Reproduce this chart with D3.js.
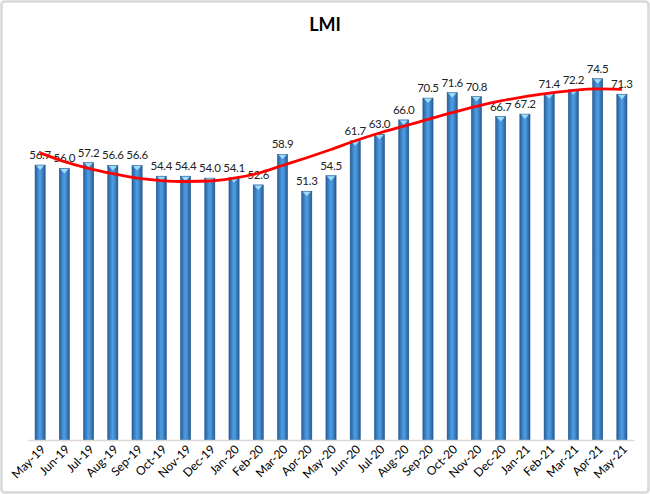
<!DOCTYPE html>
<html><head><meta charset="utf-8">
<script src="https://cdn.jsdelivr.net/npm/d3@7"></script>
<style>body{margin:0;background:#fff}svg{display:block}</style>
</head><body>
<script>
const categories = ["May-19","Jun-19","Jul-19","Aug-19","Sep-19","Oct-19","Nov-19","Dec-19","Jan-20","Feb-20","Mar-20","Apr-20","May-20","Jun-20","Jul-20","Aug-20","Sep-20","Oct-20","Nov-20","Dec-20","Jan-21","Feb-21","Mar-21","Apr-21","May-21"];
const lmiValues = [56.7,56.0,57.2,56.6,56.6,54.4,54.4,54.0,54.1,52.6,58.9,51.3,54.5,61.7,63.0,66.0,70.5,71.6,70.8,66.7,67.2,71.4,72.2,74.5,71.3];
const trendValues = [59.2,57.4,56.0,54.9,54.0,53.5,53.3,53.4,54.0,55.0,56.6,58.2,59.9,61.7,63.3,64.7,66.1,67.5,68.8,69.9,70.8,71.5,72.1,72.4,72.3];
const yDomain = [0, 80];

const W = 650, H = 494;
const svg = d3.select("body").append("svg").attr("width", W).attr("height", H);
const defs = svg.append("defs");
const g1 = defs.append("linearGradient").attr("id","barGrad").attr("x1","0").attr("x2","1").attr("y1","0").attr("y2","0");
g1.append("stop").attr("offset","0%").attr("stop-color","#25609c");
g1.append("stop").attr("offset","45%").attr("stop-color","#4e9be0");
g1.append("stop").attr("offset","60%").attr("stop-color","#4a95da");
g1.append("stop").attr("offset","100%").attr("stop-color","#235a93");

// outer frame
svg.append("rect").attr("x",1.5).attr("y",1.5).attr("width",W-3).attr("height",H-3)
  .attr("rx",3).attr("fill","#fff").attr("stroke","#d9d9d9").attr("stroke-width",2.5);

svg.append("text").attr("x",325).attr("y",31).attr("text-anchor","middle")
  .attr("font-family","Lato, 'Open Sans', sans-serif").attr("font-weight","bold").attr("font-size",18)
  .attr("fill","#000").text("LMI");

const x = d3.scaleBand().domain(categories).range([28, 634]).paddingInner(0.58).paddingOuter(0.29);
const y = d3.scaleLinear().domain(yDomain).range([440, 52]);
const bw = x.bandwidth();

const bars = svg.append("g");
bars.selectAll("rect").data(lmiValues).enter().append("rect")
  .attr("x",(d,i)=>x(categories[i])).attr("y",d=>y(d))
  .attr("width",bw).attr("height",d=>y(0)-y(d))
  .attr("fill","url(#barGrad)").attr("stroke","#1f5288").attr("stroke-width",0.5);
bars.selectAll("path").data(lmiValues).enter().append("path")
  .attr("d",(d,i)=>{const x0=x(categories[i]), t=y(d); return `M${x0+1},${t+0.5} L${x0+bw-1},${t+0.5} L${x0+bw/2},${t+5} Z`;})
  .attr("fill","#9fdcf8");

// axis
const xAxis = d3.axisBottom(x).tickSize(0).tickPadding(0);
const ax = svg.append("g").attr("transform","translate(0,440)").call(xAxis);
ax.select(".domain").attr("stroke","#d9d9d9").attr("stroke-width",1.5);
ax.selectAll("text").attr("font-family","Lato, 'Open Sans', sans-serif").attr("font-size",12).attr("fill","#000")
  .attr("text-anchor","end").attr("dy",null).attr("y",null)
  .attr("transform","translate(6,10) rotate(-45)");

// labels
svg.append("g").selectAll("text").data(lmiValues).enter().append("text")
  .attr("x",(d,i)=>x(categories[i])+bw/2).attr("y",d=>y(d)-6)
  .attr("text-anchor","middle").attr("font-family","Lato, 'Open Sans', sans-serif").attr("font-size",11.5)
  .attr("letter-spacing",-0.3)
  .attr("fill","#222").text(d=>d.toFixed(1));

// trend
const line = d3.line().x((d,i)=>x(categories[i])+bw/2).y(d=>y(d)).curve(d3.curveMonotoneX);
svg.append("path").datum(trendValues).attr("d",line).attr("fill","none")
  .attr("stroke","#ff0000").attr("stroke-width",2.8);
</script>
</body></html>
